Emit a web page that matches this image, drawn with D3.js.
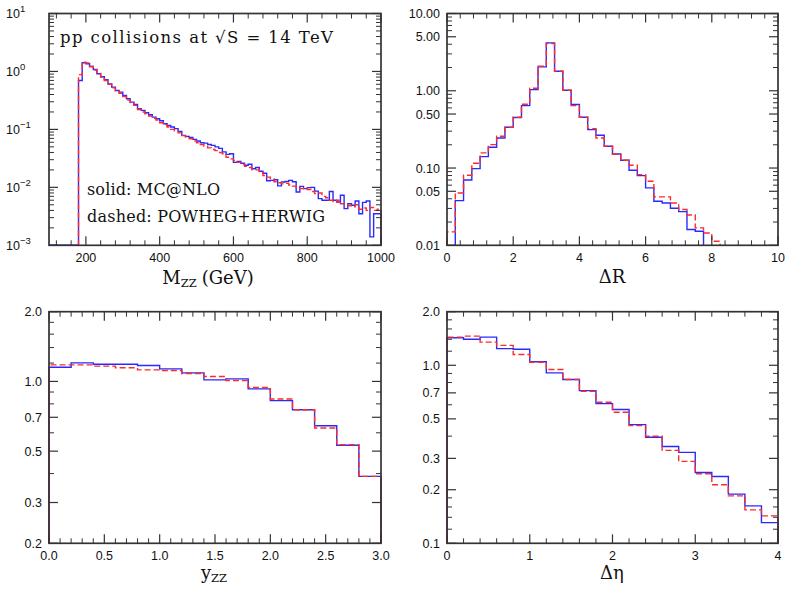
<!DOCTYPE html>
<html><head><meta charset="utf-8">
<script src="https://cdn.jsdelivr.net/npm/d3@7"></script>
<style>body{margin:0;background:#fff}</style>
</head><body>
<svg id="c" width="789" height="593"></svg>
<script>
// ---------------- data ----------------
const seriesNames = ["MC@NLO", "POWHEG+HERWIG"];

// M_ZZ distribution (10 GeV bins starting at 180 GeV)
const mzzFirstEdge = 180, mzzBinWidth = 10;
const mzzMcatnlo = [0.70,1.41,1.36,1.22,1.08,0.91,0.81,0.72,0.61,0.537,0.47,0.44,0.386,0.338,0.296,0.270,0.227,0.213,0.194,0.179,
  0.163,0.153,0.141,0.125,0.117,0.110,0.103,0.092,0.079,0.0757,0.0728,0.0672,0.063,0.0589,0.058,0.055,0.053,0.050,0.047,0.041,
  0.037,0.038,0.027,0.028,0.026,0.024,0.025,0.021,0.022,0.019,0.0175,0.013,0.0132,0.0135,0.0106,0.0124,0.0127,0.0132,0.0125,0.0083,
  0.0104,0.0095,0.0099,0.0100,0.0086,0.0064,0.0060,0.0060,0.0085,0.0060,0.0056,0.0073,0.0043,0.0052,0.0049,0.0058,0.0035,0.0055,0.0058,0.0014,
  0.0035,0.0035];
const mzzPowheg = [0.88,1.45,1.40,1.22,1.06,0.92,0.80,0.70,0.60,0.52,0.46,0.42,0.37,0.32,0.29,0.26,0.22,0.20,0.185,0.170,
  0.155,0.145,0.130,0.120,0.110,0.100,0.094,0.087,0.078,0.074,0.069,0.063,0.059,0.055,0.051,0.048,0.045,0.043,0.040,0.038,
  0.033,0.031,0.029,0.027,0.025,0.023,0.022,0.020,0.020,0.018,0.016,0.0150,0.0140,0.0125,0.0120,0.0115,0.0118,0.0110,0.0105,0.0100,
  0.0095,0.0098,0.0092,0.0085,0.0078,0.0080,0.0070,0.0066,0.0060,0.0055,0.0060,0.0052,0.0050,0.0048,0.0046,0.0050,0.0042,0.0044,0.0040,0.0045,
  0.0040,0.0042];

// Delta R distribution (0.25 bins)
const drBinWidth = 0.25;
const drMcatnloFirstEdge = 0.25;
const drMcatnlo = [0.0379,0.0701,0.0983,0.1406,0.186,0.245,0.337,0.450,0.643,1.036,2.04,4.17,1.79,1.016,0.663,0.454,0.3145,0.266,0.191,0.152,
  0.126,0.0936,0.0798,0.0553,0.0371,0.0353,0.0301,0.0273,0.0160,0.0152];
const drPowhegFirstEdge = 0;
const drPowheg = [0.0149,0.0476,0.0806,0.1153,0.157,0.201,0.258,0.337,0.454,0.669,1.078,2.08,4.08,1.79,1.016,0.643,0.454,0.324,0.245,0.191,
  0.152,0.126,0.1086,0.0822,0.0674,0.0423,0.0423,0.0353,0.0290,0.0247,0.0168,0.0144,0.0113];

// y_ZZ distribution (0.2 bins from 0)
const yzzBinWidth = 0.2;
const yzzMcatnlo = [1.152,1.203,1.187,1.187,1.171,1.133,1.089,1.015,1.026,0.929,0.826,0.755,0.644,0.530,0.389];
const yzzPowheg  = [1.179,1.179,1.164,1.145,1.122,1.114,1.082,1.050,1.009,0.941,0.840,0.755,0.629,0.533,0.389];

// Delta eta distribution (0.2 bins from 0)
const detaBinWidth = 0.2;
const detaMcatnlo = [1.428,1.40,1.44,1.24,1.23,1.046,0.907,0.832,0.721,0.609,0.564,0.464,0.394,0.350,0.324,0.250,0.2374,0.1888,0.1623,0.1307];
const detaPowheg  = [1.44,1.459,1.349,1.293,1.150,1.041,0.947,0.832,0.715,0.620,0.545,0.458,0.399,0.3326,0.2884,0.2458,0.2131,0.1847,0.1541,0.1425];

// tick labels
const mzzXTicks = [200,400,600,800,1000];
const mzzYTicks = [{v:10,e:"1"},{v:1,e:"0"},{v:0.1,e:"−1"},{v:0.01,e:"−2"},{v:0.001,e:"−3"}];
const drXTicks = [0,2,4,6,8,10];
const drYTicks = [10,5,1,0.5,0.1,0.05,0.01];
const yzzXTicks = [0,0.5,1.0,1.5,2.0,2.5,3.0];
const bottomYTicks = [2.0,1.0,0.7,0.5,0.3,0.2];
const detaYTicks = [2.0,1.0,0.7,0.5,0.3,0.2,0.1];
const detaXTicks = [0,1,2,3,4];

// ---------------- drawing ----------------
const svg = d3.select("#c");
const BLUE = "#2a2aff", RED = "#ff2a2a";
const sansFont = "'Liberation Sans', Arial, sans-serif";
const serifFont = "'DejaVu Serif', serif";

function edgesFrom(first, w, n){ return d3.range(n+1).map(i => +(first + i*w).toFixed(6)); }

function logMinors(lo, hi){
  const out=[];
  for(let d=Math.floor(Math.log10(lo)); d<=Math.ceil(Math.log10(hi)); d++){
    for(let k=1;k<10;k++){ const v=k*Math.pow(10,d); if(v>=lo*0.999 && v<=hi*1.001) out.push(v);} }
  return out;
}

function panel(cfg){
  const g = svg.append("g");
  const x = d3.scaleLinear().domain(cfg.xDomain).range([cfg.left, cfg.right]);
  const y = d3.scaleLog().domain(cfg.yDomain).range([cfg.bottom, cfg.top]);
  const yc = v => (v <= cfg.yDomain[0] ? cfg.bottom : Math.max(cfg.top, y(v)));

  // histograms
  cfg.series.forEach(s => {
    const e = edgesFrom(s.first, s.width, s.values.length);
    let pts = [];
    if (s.fromDomain) pts.push([x(cfg.xDomain[0]), cfg.bottom]);
    pts.push([x(e[0]), cfg.bottom]);
    s.values.forEach((v,i) => { pts.push([x(e[i]), yc(v)]); pts.push([x(e[i+1]), yc(v)]); });
    pts.push([x(e[e.length-1]), cfg.bottom]);
    g.append("path").attr("d", d3.line()(pts)).attr("fill","none")
      .attr("stroke", s.color).attr("stroke-width", 1.4)
      .attr("stroke-dasharray", s.dash || null).attr("stroke-linejoin","miter");
  });

  // frame
  const axisCol = "#333";
  g.append("rect").attr("x",cfg.left).attr("y",cfg.top).attr("width",cfg.right-cfg.left)
    .attr("height",cfg.bottom-cfg.top).attr("fill","none").attr("stroke",axisCol).attr("stroke-width",1.7);

  const MAJ = 9, MIN = 5;
  cfg.xMinor.forEach(v => {
    const px = x(v);
    g.append("line").attr("x1",px).attr("x2",px).attr("y1",cfg.bottom).attr("y2",cfg.bottom-MIN).attr("stroke",axisCol).attr("stroke-width",1);
    g.append("line").attr("x1",px).attr("x2",px).attr("y1",cfg.top).attr("y2",cfg.top+MIN).attr("stroke",axisCol).attr("stroke-width",1);
  });
  cfg.xTicks.forEach(v => {
    const px = x(v);
    g.append("line").attr("x1",px).attr("x2",px).attr("y1",cfg.bottom).attr("y2",cfg.bottom-MAJ).attr("stroke",axisCol).attr("stroke-width",1.2);
    g.append("line").attr("x1",px).attr("x2",px).attr("y1",cfg.top).attr("y2",cfg.top+MAJ).attr("stroke",axisCol).attr("stroke-width",1.2);
    g.append("text").attr("x",px).attr("y",cfg.bottom+17).attr("text-anchor","middle")
      .attr("font-family",sansFont).attr("font-size",12.5).attr("fill","#111").text(cfg.xFmt(v));
  });
  cfg.yMinor.forEach(v => {
    const py = y(v);
    g.append("line").attr("x1",cfg.left).attr("x2",cfg.left+MIN).attr("y1",py).attr("y2",py).attr("stroke",axisCol).attr("stroke-width",1);
    g.append("line").attr("x1",cfg.right).attr("x2",cfg.right-MIN).attr("y1",py).attr("y2",py).attr("stroke",axisCol).attr("stroke-width",1);
  });
  cfg.yTicks.forEach(t => {
    const v = typeof t === "object" ? t.v : t;
    const py = y(v);
    g.append("line").attr("x1",cfg.left).attr("x2",cfg.left+MAJ).attr("y1",py).attr("y2",py).attr("stroke",axisCol).attr("stroke-width",1.2);
    g.append("line").attr("x1",cfg.right).attr("x2",cfg.right-MAJ).attr("y1",py).attr("y2",py).attr("stroke",axisCol).attr("stroke-width",1.2);
    if (typeof t === "object") {
      const tx = g.append("text").attr("x",cfg.left-43).attr("y",py+4.5)
        .attr("font-family",sansFont).attr("font-size",12.5).attr("fill","#111");
      tx.append("tspan").text("10");
      tx.append("tspan").attr("dy",-6).attr("font-size",9.5).text(t.e);
    } else {
      g.append("text").attr("x",cfg.left-7).attr("y",py+4.5).attr("text-anchor","end")
        .attr("font-family",sansFont).attr("font-size",12.5).attr("fill","#111").text(cfg.yFmt(v));
    }
  });
  const tt = g.append("text").attr("x",cfg.titleX).attr("y",cfg.titleY).attr("text-anchor","middle")
    .attr("font-family",serifFont).attr("font-size",18).attr("fill","#111");
  cfg.title(tt);
  return {g,x,y};
}

const L1=49, R1=381, L2=447, R2=778, T1=13.5, B1=245.3, T2=311.7, B2=543.3;

// Panel 1: M_ZZ
const p1 = panel({
  left:L1, right:R1, top:T1, bottom:B1, xDomain:[100,1000], yDomain:[0.001,10],
  series:[
    {values:mzzMcatnlo, first:mzzFirstEdge, width:mzzBinWidth, color:BLUE, fromDomain:true},
    {values:mzzPowheg, first:mzzFirstEdge, width:mzzBinWidth, color:RED, dash:"6,3"}],
  xTicks:mzzXTicks, xMinor:d3.range(120,1000,40).filter(v=>v%200!==0), xFmt:d3.format("d"),
  yTicks:mzzYTicks, yMinor:logMinors(0.001,10).filter(v=>!mzzYTicks.some(t=>Math.abs(t.v-v)<1e-9)),
  titleX:208, titleY:284,
  title: t => { t.append("tspan").text("M"); t.append("tspan").attr("font-size",11.5).attr("dy",3).text("ZZ");
                t.append("tspan").attr("dy",-3).attr("dx",5).text("(GeV)"); }
});
p1.g.append("text").attr("x",60).attr("y",43).attr("font-family",serifFont).attr("font-size",16.5)
  .attr("textLength",273).attr("lengthAdjust","spacing").attr("fill","#111").text("pp collisions at √S = 14 TeV");
p1.g.append("text").attr("x",87).attr("y",195).attr("font-family",serifFont).attr("font-size",16)
  .attr("textLength",133).attr("lengthAdjust","spacing").attr("fill","#111").text("solid: " + seriesNames[0]);
p1.g.append("text").attr("x",87).attr("y",222).attr("font-family",serifFont).attr("font-size",16)
  .attr("textLength",238).attr("lengthAdjust","spacing").attr("fill","#111").text("dashed: " + seriesNames[1]);

// Panel 2: Delta R
panel({
  left:L2, right:R2, top:T1, bottom:B1, xDomain:[0,10], yDomain:[0.01,10],
  series:[
    {values:drMcatnlo, first:drMcatnloFirstEdge, width:drBinWidth, color:BLUE, fromDomain:false},
    {values:drPowheg, first:drPowhegFirstEdge, width:drBinWidth, color:RED, dash:"6,3"}],
  xTicks:drXTicks, xMinor:d3.range(0.4,10,0.4).filter(v=>Math.abs(v/2-Math.round(v/2))>1e-6), xFmt:d3.format("d"),
  yTicks:drYTicks, yMinor:logMinors(0.01,10).filter(v=>!drYTicks.some(t=>Math.abs(t-v)<1e-9)), yFmt:d3.format(".2f"),
  titleX:612, titleY:283,
  title: t => t.text("ΔR")
});

// Panel 3: y_ZZ
const bMinor = [0.4,0.6,0.8,0.9,1.2,1.4,1.6,1.8];
panel({
  left:L1, right:R1, top:T2, bottom:B2, xDomain:[0,3], yDomain:[0.2,2.0],
  series:[
    {values:yzzMcatnlo, first:0, width:yzzBinWidth, color:BLUE, fromDomain:false},
    {values:yzzPowheg, first:0, width:yzzBinWidth, color:RED, dash:"6,3"}],
  xTicks:yzzXTicks, xMinor:d3.range(0.1,3,0.1).filter(v=>Math.abs(v*2-Math.round(v*2))>1e-6), xFmt:d3.format(".1f"),
  yTicks:bottomYTicks, yMinor:bMinor, yFmt:d3.format(".1f"),
  titleX:214, titleY:579,
  title: t => { t.append("tspan").text("y"); t.append("tspan").attr("font-size",11.5).attr("dy",3).text("ZZ"); }
});

// Panel 4: Delta eta
panel({
  left:L2, right:R2, top:T2, bottom:B2, xDomain:[0,4], yDomain:[0.1,2.0],
  series:[
    {values:detaMcatnlo, first:0, width:detaBinWidth, color:BLUE, fromDomain:false},
    {values:detaPowheg, first:0, width:detaBinWidth, color:RED, dash:"6,3"}],
  xTicks:detaXTicks, xMinor:d3.range(0.2,4,0.2).filter(v=>Math.abs(v-Math.round(v))>1e-6), xFmt:d3.format("d"),
  yTicks:detaYTicks, yMinor:[0.12,0.14,0.16,0.18].concat(bMinor), yFmt:d3.format(".1f"),
  titleX:612, titleY:579,
  title: t => t.text("Δη")
});
</script>
</body></html>
